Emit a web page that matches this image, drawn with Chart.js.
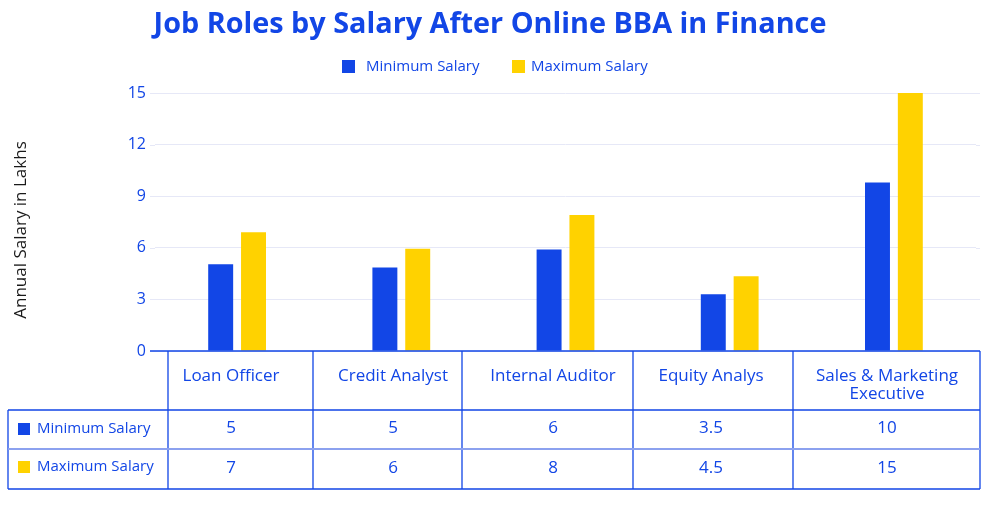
<!DOCTYPE html>
<html>
<head>
<meta charset="utf-8">
<script src="https://cdn.jsdelivr.net/npm/chart.js@4.4.1/dist/chart.umd.min.js"></script>
<style>
  html, body { margin: 0; padding: 0; background: #fff; }
  #wrap { width: 1000px; height: 506px; }
</style>
</head>
<body>
<div id="wrap"><canvas id="salaryChart" width="1000" height="506"></canvas></div>
<script>
const categories = ['Loan Officer', 'Credit Analyst', 'Internal Auditor', 'Equity Analys', ['Sales & Marketing', 'Executive']];
const minSalary = [5.05, 4.85, 5.9, 3.3, 9.8];
const maxSalary = [6.9, 5.95, 7.9, 4.35, 15];
const minSalaryTable = ['5', '5', '6', '3.5', '10'];
const maxSalaryTable = ['7', '6', '8', '4.5', '15'];
const seriesNames = ['Minimum Salary', 'Maximum Salary'];
const chartTitle = 'Job Roles by Salary After Online BBA in Finance';
const yTitle = 'Annual Salary in Lakhs';

const BLUE = '#1246e6';
const YELLOW = '#ffd200';
const GRID = '#e6e8f7';
const FONT = "'Open Sans', sans-serif";

// title, legend and y title drawn by hand so they sit where the original has them
const headerBits = {
    id: 'headerBits',
    afterDraw(chart) {
        const ctx = chart.ctx;
        const colors = [BLUE, YELLOW];
        ctx.save();
        ctx.textBaseline = 'middle';
        ctx.textAlign = 'center';
        ctx.fillStyle = BLUE;
        ctx.font = 'bold 28.8px ' + FONT;
        ctx.fillText(chartTitle, 490, 25);

        ctx.textAlign = 'left';
        ctx.font = '15px ' + FONT;
        const boxX = [342, 512], textX = [366, 531];
        seriesNames.forEach((name, i) => {
            ctx.fillStyle = colors[i];
            ctx.fillRect(boxX[i], 60, 13, 13);
            ctx.fillStyle = BLUE;
            ctx.fillText(name, textX[i], 67);
        });

        ctx.translate(21, 230);
        ctx.rotate(-Math.PI / 2);
        ctx.textAlign = 'center';
        ctx.fillStyle = '#1a1a1a';
        ctx.font = '17px ' + FONT;
        ctx.fillText(yTitle, 0, 0);
        ctx.restore();
    }
};

// grid lines in the original run a little past the bars on both sides
const gridEnds = {
    id: 'gridEnds',
    beforeDatasetsDraw(chart) {
        const ctx = chart.ctx;
        const y = chart.scales.y;
        const area = chart.chartArea;
        ctx.save();
        ctx.strokeStyle = GRID;
        ctx.lineWidth = 1;
        ctx.beginPath();
        y.ticks.forEach(t => {
            const py = Math.round(y.getPixelForValue(t.value)) + 0.5;
            ctx.moveTo(150, py); ctx.lineTo(area.left, py);
            ctx.moveTo(area.right, py); ctx.lineTo(980, py);
        });
        ctx.stroke();
        ctx.restore();
    }
};

// data table under the plot
const dataTable = {
    id: 'dataTable',
    afterDraw(chart) {
        const ctx = chart.ctx;
        const cols = [168, 313, 462, 633, 793, 980];
        const textX = [231, 393, 553, 711, 887];
        const top = chart.chartArea.bottom;
        const r1 = 410, r2 = 449, bottom = 489, left = 8;
        ctx.save();
        ctx.strokeStyle = BLUE;
        ctx.lineWidth = 1.3;
        ctx.beginPath();
        ctx.moveTo(150, top); ctx.lineTo(cols[5], top);
        cols.forEach(x => { ctx.moveTo(x, top); ctx.lineTo(x, bottom); });
        ctx.moveTo(left, r1); ctx.lineTo(left, bottom);
        ctx.moveTo(left, r1); ctx.lineTo(cols[5], r1);
        ctx.moveTo(left, bottom); ctx.lineTo(cols[5], bottom);
        ctx.stroke();
        ctx.strokeStyle = '#8ca1ef';
        ctx.lineWidth = 2;
        ctx.beginPath();
        ctx.moveTo(left, r2); ctx.lineTo(cols[5], r2);
        ctx.stroke();

        ctx.fillStyle = BLUE;
        ctx.textAlign = 'center';
        ctx.textBaseline = 'middle';
        ctx.font = '17px ' + FONT;
        categories.forEach((c, i) => {
            const lines = Array.isArray(c) ? c : [c];
            lines.forEach((l, j) => ctx.fillText(l, textX[i], 376 + j * 18));
        });
        minSalaryTable.forEach((v, i) => ctx.fillText(v, textX[i], 428));
        maxSalaryTable.forEach((v, i) => ctx.fillText(v, textX[i], 468));

        ctx.textAlign = 'left';
        ctx.font = '15px ' + FONT;
        ctx.fillRect(18, 423, 12, 12);
        ctx.fillText(seriesNames[0], 37, 429);
        ctx.fillStyle = YELLOW;
        ctx.fillRect(18, 461, 12, 12);
        ctx.fillStyle = BLUE;
        ctx.fillText(seriesNames[1], 37, 467);
        ctx.restore();
    }
};

new Chart(document.getElementById('salaryChart').getContext('2d'), {
    type: 'bar',
    data: {
        labels: categories,
        datasets: [{
            label: seriesNames[0],
            data: minSalary,
            backgroundColor: BLUE,
            categoryPercentage: 0.4,
            barPercentage: 0.76
        }, {
            label: seriesNames[1],
            data: maxSalary,
            backgroundColor: YELLOW,
            categoryPercentage: 0.4,
            barPercentage: 0.76
        }]
    },
    options: {
        responsive: false,
        animation: false,
        layout: { padding: { left: 0, right: 24, top: 93, bottom: 155 } },
        plugins: {
            title: { display: false },
            legend: { display: false },
            tooltip: { enabled: false }
        },
        scales: {
            x: {
                grid: { display: false, drawTicks: false },
                ticks: { display: false },
                border: { display: false }
            },
            y: {
                min: 0,
                max: 15,
                afterFit(scale) { scale.width = 155; },
                ticks: {
                    stepSize: 3,
                    color: BLUE,
                    padding: 9,
                    font: { family: FONT, size: 16 }
                },
                grid: { color: GRID, drawTicks: false },
                border: { display: false }
            }
        }
    },
    plugins: [gridEnds, headerBits, dataTable]
});
</script>
</body>
</html>
